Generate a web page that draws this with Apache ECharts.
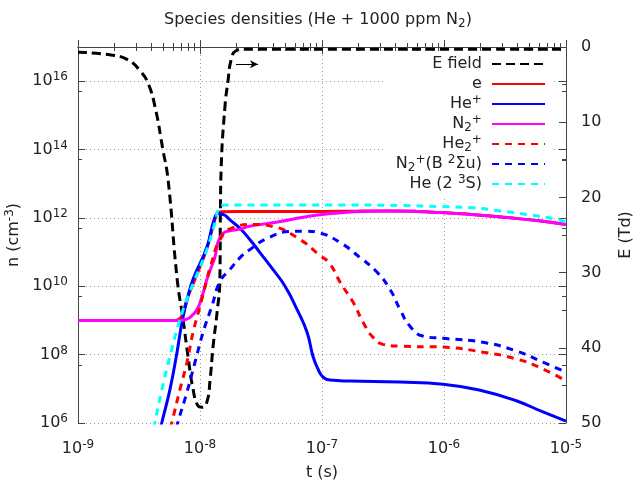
<!DOCTYPE html>
<html><head><meta charset="utf-8">
<script src="https://cdn.jsdelivr.net/npm/echarts@6/dist/echarts.min.js"></script>
<style>html,body{margin:0;padding:0;background:#fff}#c{width:636px;height:482px}</style>
</head><body><div id="c"></div>
<script>
const chartTitle = '{t|Species densities (He + 1000 ppm N}{sub|2}{t|)}';
const seriesNames = ['E field', 'e', 'He⁺', 'N₂⁺', 'He₂⁺', 'N₂⁺(B ²Σu)', 'He (2 ³S)'];
const legendLabels = ['{t|E field}', '{t|e}', '{t|He}{sup|+}', '{t|N}{sub|2}{sup|+}', '{t|He}{sub|2}{sup|+}', '{t|N}{sub|2}{sup|+}{t|(B }{sup|2}{t|Σu)}', '{t|He (2 }{sup|3}{t|S)}'];
const seriesColors = ['#000000', '#ff0000', '#0000ff', '#ff00ff', '#ff0000', '#0000ff', '#00ffff'];

// [t (s), E (Td)]
const eField = [[1e-9,0.7],[1.86e-9,1.06],[2.57e-9,1.72],[3.28e-9,3.3],[3.75e-9,4.8],[4.28e-9,7.96],[4.97e-9,13.7],[5.47e-9,17.6],[6.5e-9,30.9],[7.26e-9,36.2],[7.97e-9,41.1],[8.77e-9,45.5],[9.63e-9,47.7],[1.04e-8,47.9],[1.14e-8,47.2],[1.21e-8,44.2],[1.28e-8,39.8],[1.38e-8,35.3],[1.455e-8,30.9],[1.47e-8,22],[1.49e-8,16.3],[1.6e-8,8.0],[1.7e-8,4.4],[1.8e-8,1.7],[1.97e-8,0.5],[2.3e-8,0.3],[1e-5,0.3]];
// [t (s), n (cm^-3)]
const electrons = [[1e-9,1e9],[6.3e-9,1e9],[6.8e-9,1.12e9],[7.2e-9,1.5e9],[7.82e-9,4.2e9],[9.1e-9,1.6e10],[1.14e-8,1.3e11],[1.3e-8,7e11],[1.4e-8,1.4e12],[1.5e-8,1.52e12],[2e-8,1.55e12],[1e-7,1.55e12],[2e-7,1.58e12],[3.6e-7,1.6e12],[6e-7,1.55e12],[9.3e-7,1.43e12],[2e-6,1.2e12],[3.3e-6,1.02e12],[6e-6,8.2e11],[1e-5,6.4e11]];
const heIon = [[4.8e-9,8e5],[4.88e-9,1.07e6],[5.68e-9,9.8e6],[6.48e-9,1.18e8],[7.12e-9,8.9e8],[7.97e-9,5.1e9],[8.77e-9,1.6e10],[1.14e-8,1.4e11],[1.3e-8,8.5e11],[1.42e-8,1.35e12],[1.6e-8,1.2e12],[1.76e-8,8.8e11],[2.13e-8,4.9e11],[2.57e-8,2.3e11],[3.1e-8,9.7e10],[3.96e-8,3.1e10],[4.98e-8,1.0e10],[6.24e-8,2.1e9],[7.54e-8,4.5e8],[8.43e-8,9e7],[9.27e-8,3.8e7],[1.02e-7,2.2e7],[1.16e-7,1.8e7],[1.7e-7,1.69e7],[4.36e-7,1.58e7],[9.81e-7,1.37e7],[2.09e-6,8.6e6],[3.96e-6,4.4e6],[6.47e-6,2.1e6],[1e-5,1.14e6]];
const n2Ion = [[1e-9,1e9],[6.6e-9,1e9],[7.5e-9,1.05e9],[8.28e-9,1.23e9],[9.45e-9,2.1e9],[1.04e-8,5.1e9],[1.14e-8,1.6e10],[1.25e-8,4e10],[1.33e-8,7.4e10],[1.4e-8,1.9e11],[1.54e-8,3.5e11],[1.76e-8,4.2e11],[2.13e-8,4.7e11],[2.5e-8,5.6e11],[3.5e-8,6.8e11],[4.53e-8,7.8e11],[7e-8,1.05e12],[1e-7,1.25e12],[1.5e-7,1.45e12],[2.5e-7,1.57e12],[3.6e-7,1.6e12],[6e-7,1.55e12],[9.3e-7,1.43e12],[2e-6,1.2e12],[3.3e-6,1.02e12],[6e-6,8.2e11],[1e-5,6.4e11]];
const he2Ion = [[5.7e-9,7e5],[5.89e-9,1.07e6],[6.86e-9,9.8e6],[7.82e-9,6.0e7],[8.77e-9,4.5e8],[1e-8,2.6e9],[1.14e-8,1.6e10],[1.21e-8,3.5e10],[1.46e-8,2.3e11],[1.86e-8,5.2e11],[2.72e-8,6.4e11],[3.96e-8,5.6e11],[6.4e-8,2.5e11],[9.63e-8,8e10],[1.16e-7,4.5e10],[1.41e-7,1.3e10],[1.8e-7,3.4e9],[2.17e-7,8.9e8],[2.62e-7,3.2e8],[3.16e-7,2.0e8],[4.36e-7,1.77e8],[9.81e-7,1.66e8],[2.09e-6,1.18e8],[3.96e-6,7.4e7],[6.47e-6,3.8e7],[1e-5,1.69e7]];
const n2B = [[6.45e-9,7e5],[6.6e-9,1.07e6],[7.82e-9,8.0e6],[9.1e-9,6.0e7],[1.06e-8,4.5e8],[1.25e-8,2.6e9],[1.46e-8,1.4e10],[1.76e-8,3.1e10],[2.13e-8,6.9e10],[2.57e-8,1.19e11],[3.54e-8,2.5e11],[5.47e-8,4.0e11],[7.26e-8,4.1e11],[9.63e-8,3.6e11],[1.41e-7,1.9e11],[2.05e-7,6.9e10],[2.82e-7,2.6e10],[3.61e-7,8.1e9],[4.36e-7,2.1e9],[5.26e-7,6.8e8],[6.72e-7,3.5e8],[9.81e-7,3.0e8],[2.09e-6,2.3e8],[3.96e-6,1.26e8],[6.47e-6,6.0e7],[1e-5,3.1e7]];
const heMeta = [[4.2e-9,7e5],[4.28e-9,1.07e6],[4.88e-9,9.8e6],[5.68e-9,9.0e7],[6.6e-9,6.8e8],[7.82e-9,4.2e9],[9.1e-9,1.6e10],[1.14e-8,1.19e11],[1.33e-8,7.4e11],[1.46e-8,2.2e12],[1.6e-8,2.4e12],[1.5e-7,2.4e12],[4.4e-7,2.3e12],[9.3e-7,2.15e12],[1.73e-6,1.97e12],[2.88e-6,1.6e12],[4.79e-6,1.26e12],[7.82e-6,9.6e11],[1e-5,7.7e11]];

const xRange = [1e-9, 1e-5];
const yRange = [1e6, 1e17];
const eRange = [0, 50];
const arrowCoords = [[1.97e-8, 2.3], [2.99e-8, 2.3]];

const FONT = 'DejaVu Sans';
const TXT = '#222';
function tok(size, lh, va) {
  const o = { fontSize: size, lineHeight: lh, fontFamily: FONT, fontWeight: 'normal', color: TXT };
  if (va) o.verticalAlign = va;
  return o;
}
const rich = {
  t: tok(16, 20), b: tok(16, 20),
  s: tok(12, 12, 'top'), sup: tok(12, 12, 'top'), sub: tok(12, 12, 'bottom')
};
function powLabel(v) {
  const e = Math.round(Math.log10(v));
  return '{b|10}{s|' + e + '}';
}

const dashLong = [9, 5];
const dashShort = [7, 6];
function mkLine(i, data, dash, yAxisIndex) {
  return {
    type: 'line', name: seriesNames[i], data: data, yAxisIndex: yAxisIndex || 0,
    symbol: 'none', showSymbol: false, smooth: 0.5,
    lineStyle: { color: seriesColors[i], width: 3, type: dash || 'solid' },
    itemStyle: { color: seriesColors[i] },
    emphasis: { disabled: true }, clip: true, animation: false, z: 2 + i
  };
}

const series = [
  mkLine(0, eField, dashLong, 1),
  mkLine(1, electrons),
  mkLine(2, heIon),
  mkLine(3, n2Ion),
  mkLine(4, he2Ion, dashShort),
  mkLine(5, n2B, dashShort),
  mkLine(6, heMeta, dashShort)
];
series[0].markLine = {
  silent: true, symbol: ['none', 'arrow'], symbolSize: [6, 8],
  label: { show: false }, animation: false,
  lineStyle: { color: '#000', width: 1, type: 'solid' },
  data: [[{ coord: arrowCoords[0] }, { coord: arrowCoords[1] }]]
};

const axisLine = { show: true, lineStyle: { color: '#444', width: 1 } };
const tick = { inside: true, length: 7, lineStyle: { color: '#444' } };
const grid = { left: 78, right: 70, top: 47, bottom: 59, outerBoundsMode: 'none', containLabel: false };

const chart = echarts.init(document.getElementById('c'), null, { renderer: 'canvas' });
chart.setOption({
  backgroundColor: '#fff',
  animation: false,
  title: { text: chartTitle, left: 'center', top: 5, textStyle: { fontWeight: 'normal', rich: rich } },
  legend: {
    orient: 'vertical', align: 'right', right: 84, top: 51,
    itemWidth: 53, itemHeight: 14, itemGap: 0,
    padding: [3, 6, 3, 10], backgroundColor: '#fff',
    selectedMode: false,
    itemStyle: { opacity: 0 },
    textStyle: { fontFamily: FONT, fontSize: 16, color: TXT, lineHeight: 20, rich: rich },
    formatter: function (n) { return legendLabels[seriesNames.indexOf(n)] + '{t| }'; },
    data: seriesNames
  },
  grid: [grid, Object.assign({}, grid)],
  xAxis: [
    { type: 'log', min: xRange[0], max: xRange[1], logBase: 10, position: 'bottom',
      axisLine: axisLine, axisTick: tick,
      minorTick: { show: true, splitNumber: 9, length: 4, lineStyle: { color: '#444' } },
      splitLine: { show: true, lineStyle: { color: '#999', type: [1, 3], width: 1 } },
      axisLabel: { formatter: powLabel, rich: rich, margin: 16 },
      name: '{t|t (s)}', nameLocation: 'middle', nameGap: 40,
      nameTextStyle: { rich: rich } },
    { type: 'log', min: xRange[0], max: xRange[1], logBase: 10, position: 'top',
      axisLine: axisLine, axisTick: tick,
      minorTick: { show: true, splitNumber: 9, length: 4, lineStyle: { color: '#444' } },
      splitLine: { show: false }, axisLabel: { show: false } },
    { type: 'log', gridIndex: 1, min: xRange[0], max: xRange[1], show: false }
  ],
  yAxis: [
    { type: 'log', min: yRange[0], max: yRange[1], logBase: 10, interval: 2, position: 'left',
      axisLine: axisLine, axisTick: tick,
      minorTick: { show: true, splitNumber: 2, length: 4, lineStyle: { color: '#444' } },
      splitLine: { show: true, lineStyle: { color: '#999', type: [1, 3], width: 1 } },
      axisLabel: { formatter: powLabel, rich: rich, margin: 10, showMaxLabel: false },
      name: '{b|n (cm}{s|-3}{b|)}', nameLocation: 'middle', nameGap: 46, nameRotate: 90,
      nameTextStyle: { rich: rich } },
    { type: 'value', min: eRange[0], max: eRange[1], interval: 10, inverse: true, position: 'right',
      axisLine: axisLine, axisTick: tick,
      minorTick: { show: true, splitNumber: 2, length: 4, lineStyle: { color: '#444' } },
      splitLine: { show: false },
      axisLabel: { fontFamily: FONT, fontSize: 16, color: TXT, margin: 15 },
      name: '{t|E (Td)}', nameLocation: 'middle', nameGap: 50, nameRotate: 90,
      nameTextStyle: { rich: rich } },
    { type: 'log', gridIndex: 1, min: yRange[0], max: yRange[1], logBase: 10, interval: 2, position: 'right',
      axisLine: { show: false }, axisTick: tick,
      minorTick: { show: true, splitNumber: 2, length: 4, lineStyle: { color: '#444' } },
      splitLine: { show: false }, axisLabel: { show: false } }
  ],
  series: series
});
</script></body></html>
